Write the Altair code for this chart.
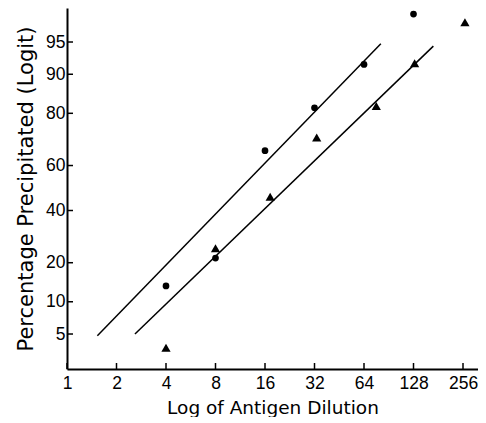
import altair as alt
import pandas as pd
from statistics import NormalDist

# Data (the vertical axis is drawn on a probability scale)
circ_dilution = [4, 8, 16, 32, 64, 128]
circ_pct = [13.5, 21.5, 66.3, 81.7, 91.8, 97.5]
tri_dilution = [4, 8, 17.2, 33, 76, 130, 263]
tri_pct = [3.6, 24.9, 46.1, 71.5, 82.2, 92.0, 96.9]
line1_dilution = [1.53, 81]
line1_pct = [4.8, 94.8]
line2_dilution = [2.59, 169]
line2_pct = [5.0, 94.5]
x_ticks = [1, 2, 4, 8, 16, 32, 64, 128, 256]
y_ticks_pct = [5, 10, 20, 40, 60, 80, 90, 95]

_nd = NormalDist()


def probit(ps):
    return [_nd.inv_cdf(p / 100.0) for p in ps]


circ = pd.DataFrame({"d": circ_dilution, "y": probit(circ_pct)})
tri = pd.DataFrame({"d": tri_dilution, "y": probit(tri_pct)})
lines = pd.concat([
    pd.DataFrame({"d": line1_dilution, "y": probit(line1_pct), "s": "a"}),
    pd.DataFrame({"d": line2_dilution, "y": probit(line2_pct), "s": "b"}),
])
xt = pd.DataFrame({"d": x_ticks})
yt = pd.DataFrame({"y": probit(y_ticks_pct)})

FONT = "DejaVu Sans"
LFONT = "Liberation Sans"
W, H = 411, 361
xscale = alt.Scale(type="log", base=2, domain=[1, 315.8], nice=False)
yscale = alt.Scale(domain=[-2.039, 2.028], nice=False, zero=False)

xaxis = alt.Axis(values=x_ticks, labelExpr="datum.value", title="Log of Antigen Dilution",
                 grid=False, ticks=False, tickSize=0, labelPadding=5,
                 titleBaseline="alphabetic", titleY=44,
                 domainColor="black", domainWidth=2, labelFont=LFONT, titleFont=FONT,
                 labelFontSize=17.5, titleFontSize=18.5, labelColor="black", titleColor="black",
                 titleFontWeight="normal", labelFlush=False)
yaxis = alt.Axis(values=probit(y_ticks_pct),
                 labelExpr="round(100*cumulativeNormal(datum.value))",
                 title="Percentage Precipitated (Logit)",
                 grid=False, ticks=False, tickSize=0, labelPadding=2, titlePadding=9,
                 domainColor="black", domainWidth=2, labelFont=LFONT, titleFont=FONT,
                 labelFontSize=17.5, titleFontSize=21, labelColor="black", titleColor="black",
                 titleFontWeight="normal", labelFlush=False)

base_lines = alt.Chart(lines).mark_line(color="black", strokeWidth=1.5).encode(
    x=alt.X("d:Q", scale=xscale, axis=xaxis),
    y=alt.Y("y:Q", scale=yscale, axis=yaxis),
    detail="s:N",
)
pts_c = alt.Chart(circ).mark_point(shape="circle", filled=True, color="black", size=45, opacity=1).encode(
    x=alt.X("d:Q", scale=xscale), y=alt.Y("y:Q", scale=yscale))
pts_t = alt.Chart(tri).mark_point(shape="triangle-up", filled=True, color="black", size=85, opacity=1).encode(
    x=alt.X("d:Q", scale=xscale), y=alt.Y("y:Q", scale=yscale))
ytick_marks = alt.Chart(yt).mark_rule(color="black", strokeWidth=1.5).encode(
    y=alt.Y("y:Q", scale=yscale), x=alt.value(0), x2=alt.value(6))
xtick_marks = alt.Chart(xt).mark_rule(color="black", strokeWidth=1.5).encode(
    x=alt.X("d:Q", scale=xscale), y=alt.value(H), y2=alt.value(H - 6))

chart = alt.layer(base_lines, pts_c, pts_t, ytick_marks, xtick_marks).properties(
    width=W, height=H,
    autosize=alt.AutoSizeParams(type="none"),
    padding={"left": 59, "top": 0, "right": 0, "bottom": 48},
).configure_view(stroke=None)

chart.save("out.html", embed_options={"renderer": "svg", "actions": False})
